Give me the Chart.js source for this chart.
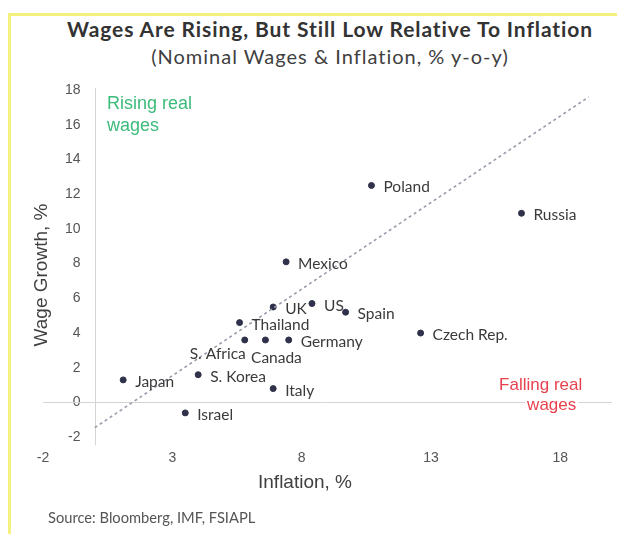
<!DOCTYPE html>
<html>
<head>
<meta charset="utf-8">
<script src="https://cdn.jsdelivr.net/npm/chart.js@4.4.1/dist/chart.umd.min.js"></script>
<style>
  html, body { margin: 0; padding: 0; background: #fff; }
  #page { position: relative; width: 617px; height: 534px; overflow: hidden; }
  #frame { position: absolute; left: 8px; top: 13px; right: 0; bottom: 0;
           border-top: 3px solid #f5f17e; border-left: 3px solid #f5f17e; }
  .title { position: absolute; left: 43px; width: 574px; text-align: center; font-family: Lato, sans-serif; color: #333; white-space: nowrap; }
  #t1 { top: 16px; font-size: 21px; font-weight: 700; letter-spacing: 0.9px; }
  #t2 { top: 44px; font-size: 20px; color: #404040; letter-spacing: 1px; }
  #source { position: absolute; left: 48px; top: 508px; font-family: Lato, sans-serif; font-size: 14.7px; color: #555; }
  #wrap { position: absolute; left: 0; top: 0; width: 617px; height: 534px; }
</style>
</head>
<body>
<div id="page">
  <div id="frame"></div>
  <div class="title" id="t1">Wages Are Rising, But Still Low Relative To Inflation</div>
  <div class="title" id="t2">(Nominal Wages &amp; Inflation, % y-o-y)</div>
  <div id="wrap"><canvas id="chart"></canvas></div>
  <div id="source">Source: Bloomberg, IMF, FSIAPL</div>
</div>
<script>
const countries = ['Poland', 'Russia', 'Mexico', 'UK', 'US', 'Spain', 'Thailand', 'S. Africa', 'Canada', 'Germany', 'S. Korea', 'Japan', 'Italy', 'Israel', 'Czech Rep.'];
const inflation = [10.7, 16.5, 7.4, 6.9, 8.4, 9.7, 5.6, 5.8, 6.6, 7.5, 4.0, 1.1, 6.9, 3.5, 12.6];
const wageGrowth = [12.5, 10.9, 8.1, 5.5, 5.7, 5.2, 4.6, 3.6, 3.6, 3.6, 1.6, 1.3, 0.8, -0.6, 4.0];

const parityX = [0, 19.1];
const parityY = [-1.45, 17.6];

const xTicks = [-2, 3, 8, 13, 18];
const yTicks = [-2, 0, 2, 4, 6, 8, 10, 12, 14, 16, 18];

const axisFont = '"Liberation Sans", Arial, sans-serif';

// label placement tweaks (pixels), default is right of the dot
const labelOffsets = {
  'S. Africa': { dx: -27, dy: 14, align: 'center' },
  'Canada': { dx: 11, dy: 18, align: 'center' },
};

const notes = [
  { lines: ['Rising real', 'wages'], x: 0.47, y: 17.2, color: '#3dbb7a', align: 'left', size: 18, gap: 22 },
  { lines: ['Falling real', 'wages'], x: 18.85, y: 1.0, color: '#e8414e', align: 'right', indent: [0, 6], size: 17, gap: 20 },
];

const points = countries.map((c, i) => ({ x: inflation[i], y: wageGrowth[i] }));

const decorPlugin = {
  id: 'decor',
  beforeDatasetsDraw(chart) {
    const { ctx, chartArea, scales: { x, y } } = chart;
    ctx.save();
    ctx.strokeStyle = '#d4d4d4';
    ctx.lineWidth = 1;
    const x0 = Math.round(x.getPixelForValue(0)) + 0.5;
    const y0 = Math.round(y.getPixelForValue(0)) + 0.5;
    ctx.beginPath();
    ctx.moveTo(x0, chartArea.top - 2);
    ctx.lineTo(x0, chartArea.bottom + 8);
    ctx.moveTo(chartArea.left, y0);
    ctx.lineTo(chartArea.right, y0);
    ctx.stroke();
    ctx.restore();
  },
  afterDraw(chart) {
    const { ctx, scales: { x, y } } = chart;
    ctx.save();
    // country labels
    ctx.font = '15.5px Lato, sans-serif';
    ctx.fillStyle = '#3a3a3a';
    ctx.textBaseline = 'middle';
    countries.forEach((c, i) => {
      const o = labelOffsets[c] || { dx: 12, dy: 2, align: 'left' };
      ctx.textAlign = o.align;
      ctx.fillText(c, x.getPixelForValue(inflation[i]) + o.dx, y.getPixelForValue(wageGrowth[i]) + o.dy);
    });
    // region notes
    notes.forEach((n) => {
      ctx.font = `${n.size}px ${axisFont}`;
      const px = x.getPixelForValue(n.x);
      const py = y.getPixelForValue(n.y);
      ctx.textAlign = n.align;
      n.lines.forEach((line, k) => {
        const w = ctx.measureText(line).width;
        const lx = px - (n.indent ? n.indent[k] : 0);
        const ly = py + k * n.gap;
        ctx.fillStyle = '#fff';
        ctx.fillRect(n.align === 'right' ? lx - w - 2 : lx - 2, ly - 10, w + 4, 20);
        ctx.fillStyle = n.color;
        ctx.fillText(line, lx, ly);
      });
    });
    // axis titles
    ctx.font = `19px ${axisFont}`;
    ctx.fillStyle = '#404040';
    ctx.textAlign = 'center';
    ctx.fillText('Inflation, %', 305, 483);
    ctx.translate(42, 275);
    ctx.rotate(-Math.PI / 2);
    ctx.fillText('Wage Growth, %', 0, 0);
    ctx.restore();
  },
};

new Chart(document.getElementById('chart'), {
  type: 'scatter',
  data: {
    datasets: [
      {
        type: 'line',
        data: parityX.map((v, i) => ({ x: v, y: parityY[i] })),
        borderColor: '#9a9cab',
        borderWidth: 1.6,
        borderDash: [3, 3],
        pointRadius: 0,
        fill: false,
      },
      {
        data: points,
        backgroundColor: '#2e3149',
        borderColor: '#2e3149',
        pointRadius: 3,
      },
    ],
  },
  options: {
    responsive: true,
    maintainAspectRatio: false,
    animation: false,
    layout: { padding: { left: 43, right: 4, top: 90, bottom: 54 } },
    plugins: { legend: { display: false }, tooltip: { enabled: false } },
    scales: {
      x: {
        type: 'linear',
        min: -2,
        max: 20,
        afterBuildTicks: (s) => { s.ticks = xTicks.map((v) => ({ value: v })); },
        grid: { display: false, drawTicks: false, tickLength: 0 },
        border: { display: false },
        ticks: { color: '#555', padding: 13, font: { family: axisFont, size: 14 } },
      },
      y: {
        type: 'linear',
        position: { x: -0.55 },
        min: -2,
        max: 18,
        afterBuildTicks: (s) => { s.ticks = yTicks.map((v) => ({ value: v })); },
        grid: { display: false, drawTicks: false, tickLength: 0 },
        border: { display: false },
        ticks: { color: '#555', padding: 0, font: { family: axisFont, size: 14 } },
      },
    },
  },
  plugins: [decorPlugin],
});
</script>
</body>
</html>
